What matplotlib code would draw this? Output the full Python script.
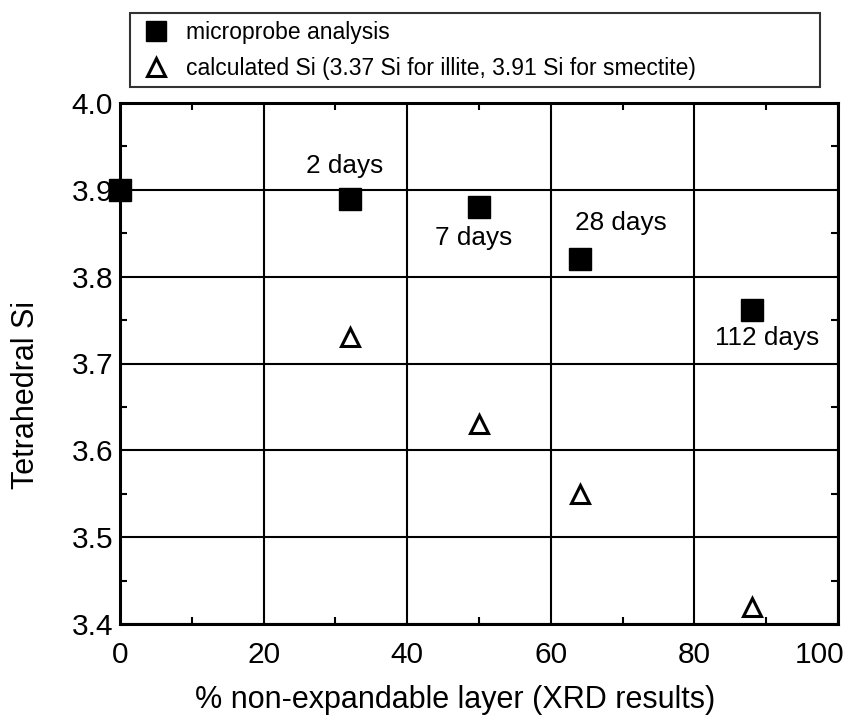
import matplotlib
matplotlib.use("Agg")
import matplotlib.pyplot as plt
from matplotlib.ticker import MultipleLocator
from matplotlib.transforms import ScaledTranslation

plt.rcParams["font.family"] = ["Liberation Sans", "DejaVu Sans"]

# microprobe analysis (filled squares)
probe_x = [0, 32, 50, 64, 88]
probe_si = [3.90, 3.89, 3.88, 3.82, 3.762]

# calculated Si (open triangles)
calc_x = [0, 32, 50, 64, 88]
calc_si = [3.90, 3.73, 3.63, 3.55, 3.42]

# reaction time labels
day_labels = ["2 days", "7 days", "28 days", "112 days"]
day_label_x = [31.3, 49.2, 69.8, 90.1]
day_label_y = [3.928, 3.845, 3.862, 3.729]


def main():
    fig = plt.figure(figsize=(8.61, 7.19), dpi=100)
    ax = fig.add_axes([120 / 861, 1 - 624 / 719, 718 / 861, 521 / 719])

    ax.plot(calc_x, calc_si, linestyle="none", marker="^", markersize=13.5,
            markerfacecolor="white", markeredgecolor="black", markeredgewidth=2.2,
            clip_on=False, zorder=3)
    ax.plot(probe_x, probe_si, linestyle="none", marker="s", markersize=15.5,
            color="black", clip_on=False, zorder=4)

    for t, tx, ty in zip(day_labels, day_label_x, day_label_y):
        ax.text(tx, ty, t, fontsize=18.8, ha="center", va="center", zorder=5)

    ax.set_xlim(0, 100)
    ax.set_ylim(3.4, 4.0)
    ax.xaxis.set_major_locator(MultipleLocator(20))
    ax.xaxis.set_minor_locator(MultipleLocator(10))
    ax.yaxis.set_major_locator(MultipleLocator(0.1))
    ax.yaxis.set_minor_locator(MultipleLocator(0.05))
    ax.yaxis.set_major_formatter(plt.FormatStrFormatter("%.1f"))

    ax.grid(True, which="major", color="black", linewidth=1.5)
    ax.set_axisbelow(True)
    for s in ax.spines.values():
        s.set_linewidth(2.2)

    ax.tick_params(which="both", direction="in", top=True, right=True,
                   labelsize=21.5, width=1.5)
    ax.tick_params(which="major", length=0)
    ax.tick_params(axis="y", which="major", pad=5)
    ax.tick_params(axis="x", which="major", pad=12)
    ax.tick_params(which="minor", length=5)

    ax.set_xlabel("% non-expandable layer (XRD results)", fontsize=22)
    ax.set_ylabel("Tetrahedral Si", fontsize=22)
    ax.xaxis.set_label_coords(0.467, -0.118)
    ax.yaxis.set_label_coords(-0.11, 0.44)

    # legend box above the plot
    h_sq, = ax.plot([], [], linestyle="none", marker="s", markersize=14, color="black")
    h_tr, = ax.plot([], [], linestyle="none", marker="^", markersize=13,
                    markerfacecolor="white", markeredgecolor="black", markeredgewidth=2.2)
    leg = fig.legend([h_sq, h_tr],
                     ["microprobe analysis",
                      "calculated Si (3.37 Si for illite, 3.91 Si for smectite)"],
                     loc="upper left", mode="expand",
                     bbox_to_anchor=(130 / 861, 0, 690 / 861, 1 - 13 / 719),
                     fontsize=16.5, frameon=True, fancybox=False,
                     handlelength=1.6, handletextpad=0.52, borderpad=0.33,
                     labelspacing=0.57, borderaxespad=0)
    leg.get_frame().set_edgecolor("black")
    leg.get_frame().set_linewidth(1.5)

    # the "100" label sits a little left of its tick, inside the figure
    fig.canvas.draw()
    last = ax.xaxis.get_major_ticks()[-1]
    for tk in ax.xaxis.get_major_ticks():
        if abs(tk.get_loc() - 100) < 1e-6:
            last = tk
    last.label1.set_transform(last.label1.get_transform()
                              + ScaledTranslation(-0.18, 0, fig.dpi_scale_trans))

    fig.savefig("out.png", dpi=100, facecolor="white")


if __name__ == "__main__":
    main()
